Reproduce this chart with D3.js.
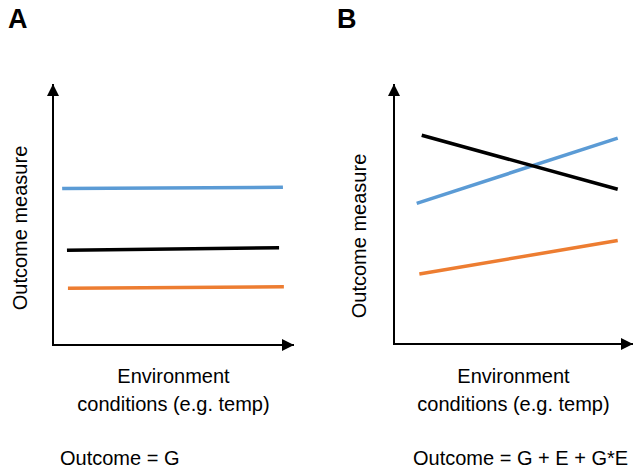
<!DOCTYPE html>
<html>
<head>
<meta charset="utf-8">
<script src="https://cdn.jsdelivr.net/npm/d3@7"></script>
<style>
  html, body { margin: 0; padding: 0; background: #fff; }
  svg { display: block; font-family: "Liberation Sans", Arial, sans-serif; }
</style>
</head>
<body>
<svg id="chart" width="642" height="470"></svg>
<script>
// ---- data ----
const panels = ["A", "B"];
const seriesNames = ["G1", "G2", "G3"];
const seriesColors = ["#5b9bd5", "#000000", "#ed7d31"];
// environment positions (start, end) and outcome values per series
const envA = [[0.38, 9.54], [0.58, 9.38], [0.62, 9.58]];
const valuesA = [[6.0, 6.04], [3.63, 3.73], [2.17, 2.23]];
const envB = [[0.95, 9.36], [1.16, 9.36], [1.06, 9.36]];
const valuesB = [[5.41, 7.92], [8.03, 5.95], [2.69, 3.98]];
const yLabel = "Outcome measure";
const xLabelLines = ["Environment", "conditions (e.g. temp)"];
const formulas = ["Outcome = G", "Outcome = G + E + G*E"];

const svg = d3.select("#chart");

const defs = svg.append("defs");
defs.append("marker")
  .attr("id", "arrow")
  .attr("viewBox", "0 0 12 12")
  .attr("refX", 12).attr("refY", 6)
  .attr("markerWidth", 12).attr("markerHeight", 12)
  .attr("markerUnits", "userSpaceOnUse")
  .attr("orient", "auto")
  .append("path").attr("d", "M0,0 L12,6 L0,12 Z").attr("fill", "#000");

const layout = [
  { ox: 53, x1: 294, oy: 345, y1: 84, letterX: 8, labelX: 27, labelCy: 228, formulaX: 60, env: envA, vals: valuesA },
  { ox: 394, x1: 633, oy: 344, y1: 84, letterX: 337, labelX: 366, labelCy: 236, formulaX: 413, env: envB, vals: valuesB }
];

layout.forEach((p, i) => {
  const g = svg.append("g");
  const x = d3.scaleLinear().domain([0, 10]).range([p.ox, p.x1]);
  const y = d3.scaleLinear().domain([0, 10]).range([p.oy, p.y1]);

  // panel letter
  g.append("text").attr("x", p.letterX).attr("y", 28)
    .attr("font-size", 27).attr("font-weight", "bold").text(panels[i]);

  // axes with arrows
  g.append("line").attr("x1", x(0)).attr("y1", y(0)).attr("x2", x(0)).attr("y2", y(10))
    .attr("stroke", "#000").attr("stroke-width", 2).attr("marker-end", "url(#arrow)");
  g.append("line").attr("x1", x(0) - 1).attr("y1", y(0)).attr("x2", x(10)).attr("y2", y(0))
    .attr("stroke", "#000").attr("stroke-width", 2).attr("marker-end", "url(#arrow)");

  // series lines
  const line = d3.line().x(d => x(d[0])).y(d => y(d[1]));
  seriesNames.forEach((s, k) => {
    const pts = p.env[k].map((e, j) => [e, p.vals[k][j]]);
    g.append("path").datum(pts).attr("d", line)
      .attr("fill", "none").attr("stroke", seriesColors[k]).attr("stroke-width", 3.5);
  });

  // y label
  g.append("text")
    .attr("transform", `translate(${p.labelX},${p.labelCy}) rotate(-90)`)
    .attr("text-anchor", "middle").attr("font-size", 20).attr("fill", "#000")
    .text(yLabel);

  // x label
  const cx = (p.ox + p.x1) / 2;
  xLabelLines.forEach((t, j) => {
    g.append("text").attr("x", cx).attr("y", 383 + j * 28)
      .attr("text-anchor", "middle").attr("font-size", 20).attr("fill", "#000").text(t);
  });

  // formula
  g.append("text").attr("x", p.formulaX).attr("y", 465)
    .attr("font-size", 20).attr("fill", "#000").text(formulas[i]);
});
</script>
</body>
</html>
